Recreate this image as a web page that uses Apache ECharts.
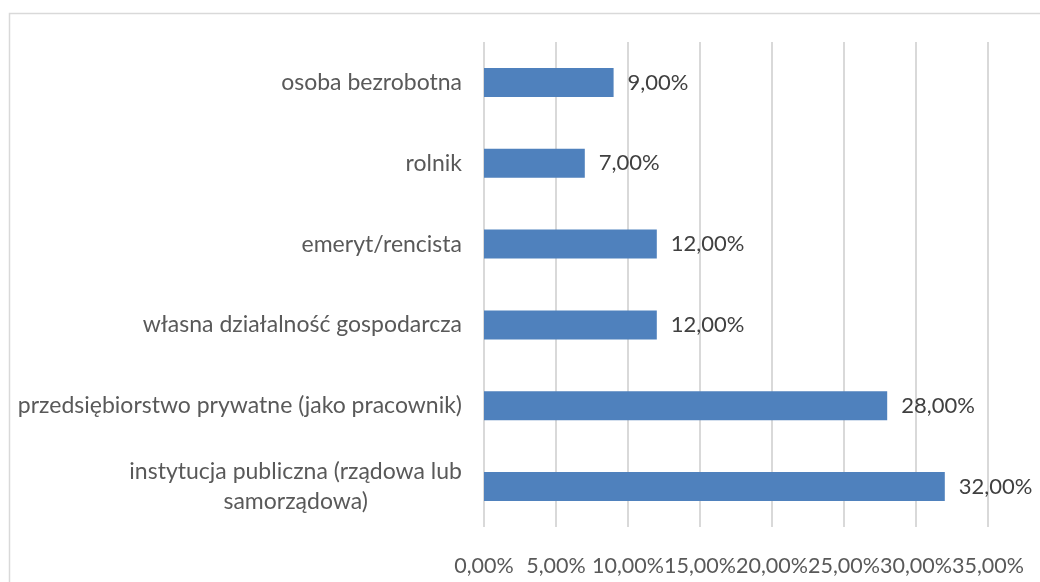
<!DOCTYPE html>
<html>
<head>
<meta charset="utf-8">
<script src="https://cdn.jsdelivr.net/npm/echarts@6/dist/echarts.min.js"></script>
<style>
html,body{margin:0;padding:0;background:#fff;}
#chart{width:1040px;height:582px;}
</style>
</head>
<body>
<div id="chart"></div>
<script>
// kategorie (od dołu do góry)
var categories = [
	'instytucja publiczna (rządowa lub\nsamorządowa)',
	'przedsiębiorstwo prywatne (jako pracownik)',
	'własna działalność gospodarcza',
	'emeryt/rencista',
	'rolnik',
	'osoba bezrobotna'
];
var values = [32, 28, 12, 12, 7, 9];
var axisMax = 35;
var axisStep = 5;

var FONT = 'Lato, "Noto Sans", sans-serif';

function pct(v) {
	return v.toFixed(2).replace('.', ',') + '%';
}

var chart = echarts.init(document.getElementById('chart'));
var option = {
	backgroundColor: '#fff',
	animation: false,
	graphic: [{
		type: 'rect',
		shape: { x: 9.5, y: 13.5, width: 1200, height: 800 },
		style: { fill: 'none', stroke: '#d9d9d9', lineWidth: 1.5 },
		silent: true
	}],
	grid: {
		left: 484,
		right: 52,
		top: 42,
		bottom: 55
	},
	xAxis: {
		type: 'value',
		min: 0,
		max: axisMax,
		interval: axisStep,
		axisLine: { show: false },
		axisTick: { show: false },
		splitLine: { lineStyle: { color: '#d9d9d9', width: 2 } },
		axisLabel: {
			margin: 28,
			color: '#595959',
			fontFamily: FONT,
			fontSize: 21.5,
			showMinLabel: true,
			showMaxLabel: true,
			hideOverlap: false,
			formatter: function (v) { return pct(v); }
		}
	},
	yAxis: {
		type: 'category',
		data: categories,
		axisLine: { show: false },
		axisTick: { show: false },
		axisLabel: {
			margin: 22,
			color: '#595959',
			fontFamily: FONT,
			fontSize: 23,
			lineHeight: 30,
			formatter: function (v) {
				return v.split('\n').map(function (s) { return '{c|' + s + '}'; }).join('\n');
			},
			rich: {
				c: { align: 'center', fontFamily: FONT, fontSize: 23, color: '#595959', lineHeight: 30 }
			}
		}
	},
	series: [{
		type: 'bar',
		data: values,
		barWidth: 29,
		itemStyle: { color: '#4f81bd' },
		label: {
			show: true,
			position: 'right',
			distance: 14,
			color: '#404040',
			fontFamily: FONT,
			fontSize: 22,
			formatter: function (p) { return pct(p.value); }
		}
	}]
};
chart.setOption(option);
</script>
</body>
</html>
